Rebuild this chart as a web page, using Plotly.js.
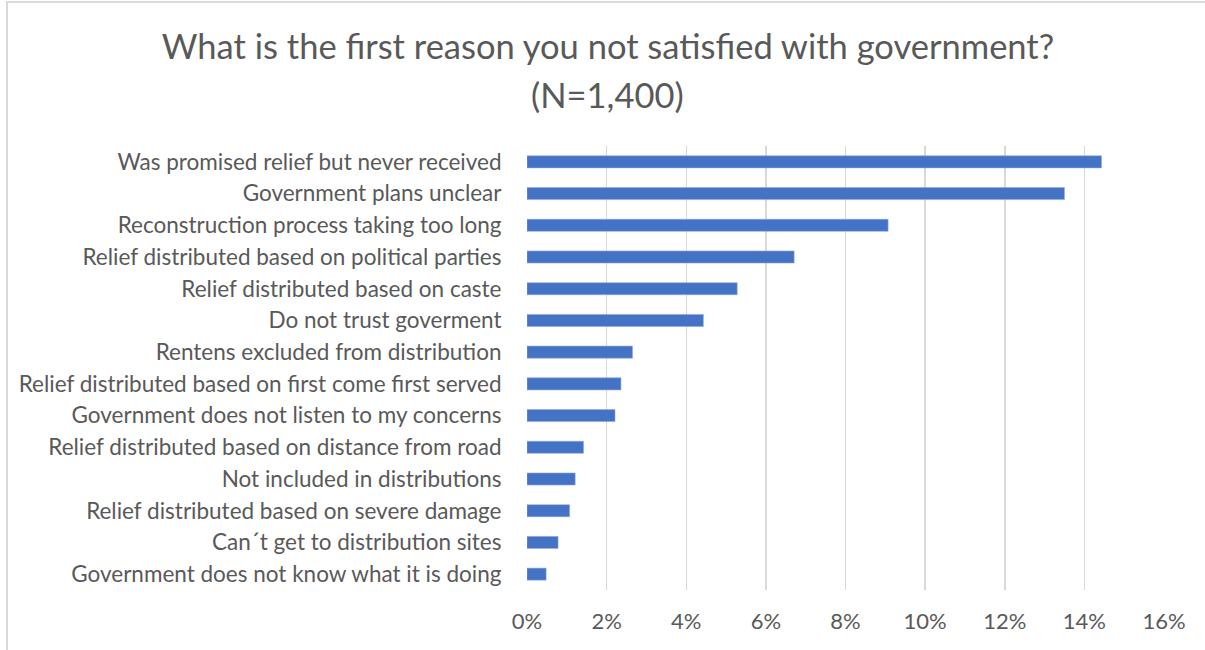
<!DOCTYPE html>
<html>
<head>
<meta charset="utf-8">
<script src="https://cdn.plot.ly/plotly-3.0.1.min.js"></script>
<style>
  html, body { margin: 0; padding: 0; background: #fff; overflow: hidden; }
  #wrap { position: relative; width: 1205px; height: 650px; overflow: hidden; }
  #chart { width: 1205px; height: 650px; }
  #frame { position: absolute; left: 6px; top: 1px; width: 1220px; height: 680px;
           border-left: 2px solid #d9d9d9; border-top: 2px solid #d9d9d9; pointer-events: none; }
</style>
</head>
<body>
<div id="wrap">
  <div id="chart"></div>
  <div id="frame"></div>
</div>
<script>
const categories = [
  "Was promised relief but never received",
  "Government plans unclear",
  "Reconstruction process taking too long",
  "Relief distributed based on political parties",
  "Relief distributed based on caste",
  "Do not trust goverment",
  "Rentens excluded from distribution",
  "Relief distributed based on first come first served",
  "Government does not listen to my concerns",
  "Relief distributed based on distance from road",
  "Not included in distributions",
  "Relief distributed based on severe damage",
  "Can\u00b4t get to distribution sites",
  "Government does not know what it is doing"
];
const values = [0.1443, 0.1350, 0.0907, 0.0671, 0.0528, 0.0443, 0.0265,
                0.0236, 0.0221, 0.0142, 0.0121, 0.0107, 0.0078, 0.0048];
const tickValues = [0, 0.02, 0.04, 0.06, 0.08, 0.10, 0.12, 0.14, 0.16];
const tickLabels = ["0%", "2%", "4%", "6%", "8%", "10%", "12%", "14%", "16%"];
const titleLine1 = "What is the first reason you not satisfied with government?";
const titleLine2 = "(N=1,400)";

const font = "Lato, 'Open Sans', sans-serif";
const grey = "#595959";

const trace = {
  type: "bar",
  orientation: "h",
  y: categories,
  x: values,
  marker: { color: "#4472c4", line: { color: "#8faadc", width: 0.6 } },
  hoverinfo: "x+y"
};

const layout = {
  width: 1205,
  height: 650,
  margin: { l: 527, r: 41, t: 146, b: 60 },
  paper_bgcolor: "#ffffff",
  plot_bgcolor: "#ffffff",
  bargap: 0.62,
  showlegend: false,
  font: { family: font, color: grey, size: 22.5 },
  xaxis: {
    range: [0, 0.16],
    tickvals: tickValues,
    ticktext: tickLabels,
    showgrid: true,
    gridcolor: "#d9d9d9",
    gridwidth: 1.5,
    zeroline: false,
    showline: false,
    ticks: "outside",
    ticklen: 12,
    tickcolor: "rgba(0,0,0,0)",
    tickfont: { family: font, color: grey, size: 22 },
    fixedrange: true
  },
  yaxis: {
    autorange: "reversed",
    type: "category",
    showgrid: false,
    zeroline: false,
    showline: false,
    ticks: "outside",
    ticklen: 20,
    tickcolor: "rgba(0,0,0,0)",
    tickfont: { family: font, color: grey, size: 22.5 },
    fixedrange: true
  },
  title: {
    text: titleLine1,
    font: { family: font, color: grey, size: 34.5 },
    x: 608 / 1205,
    xanchor: "center",
    xref: "container",
    y: 1 - 47 / 650,
    yanchor: "middle",
    yref: "container"
  },
  annotations: [{
    text: titleLine2,
    showarrow: false,
    xref: "paper",
    yref: "paper",
    x: (607 - 527) / (1164 - 527),
    y: 1 + (146 - 95) / (650 - 146 - 60),
    xanchor: "center",
    yanchor: "middle",
    font: { family: font, color: grey, size: 34.5 }
  }]
};

Plotly.newPlot("chart", [trace], layout, { displayModeBar: false, staticPlot: true });
</script>
</body>
</html>
